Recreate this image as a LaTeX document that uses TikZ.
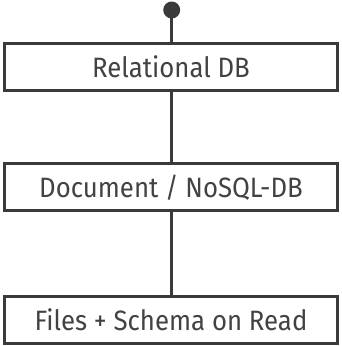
\documentclass[tikz,border=0pt]{standalone}
\usepackage{fontspec}
\setmainfont{Fira Sans}[FakeStretch=0.92]
\usetikzlibrary{positioning}
\definecolor{inkgray}{HTML}{3A3A3A}
\definecolor{textgray}{HTML}{424242}
\tikzset{
  store/.style={draw=inkgray, line width=3.2pt, fill=white, minimum width=333.5pt,
    minimum height=47pt, inner sep=0pt, text=textgray, font=\fontsize{28}{32}\selectfont},
  link/.style={draw=inkgray, line width=3.2pt}
}
\begin{document}
\begin{tikzpicture}[x=1pt, y=-1pt]
    \useasboundingbox (0,0) rectangle (342,346);
    \fill[inkgray] (171.7,10) circle (8.5pt) coordinate (top);
    \node[store] (rel) at (171,67.2) {Relational DB};
    \node[store] (doc) at (171,187.2) {Document / NoSQL-DB};
    \node[store] (files) at (171,320) {Files + Schema on Read};
    \draw[link] (top) -- (rel.north -| top);
    \draw[link] (rel.south -| top) -- (doc.north -| top);
    \draw[link] (doc.south -| top) -- (files.north -| top);
  \end{tikzpicture}
\end{document}
